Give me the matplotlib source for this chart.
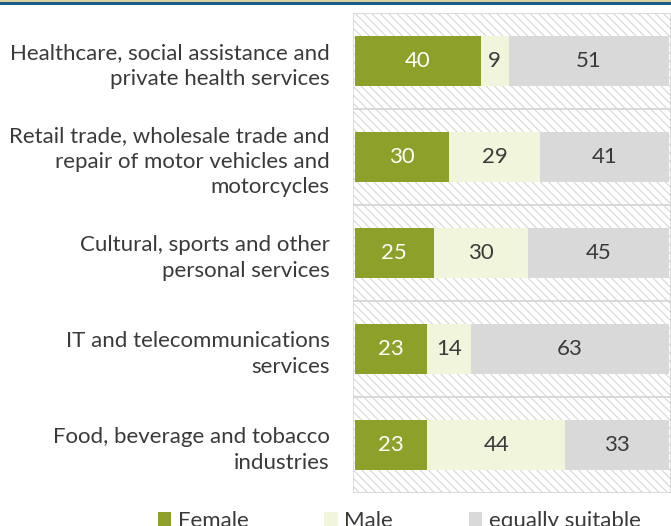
import matplotlib.pyplot as plt
import numpy as np
from matplotlib.patches import Rectangle, Patch

categories = ['Healthcare, social assistance and\nprivate health services',
              'Retail trade, wholesale trade and\nrepair of motor vehicles and\nmotorcycles',
              'Cultural, sports and other\npersonal services',
              'IT and telecommunications\nservices',
              'Food, beverage and tobacco\nindustries']
female = [40, 30, 25, 23, 23]
male = [9, 29, 30, 14, 44]
equal = [51, 41, 45, 63, 33]
series_names = ['Female', 'Male', 'equally suitable']
colors = ['#8DA12A', '#F0F5DC', '#D9D9D9']
text_colors = ['white', '#3A3A3A', '#3A3A3A']

plt.rcParams['font.family'] = ['Lato', 'DejaVu Sans']
plt.rcParams['hatch.linewidth'] = 0.8

fig = plt.figure(figsize=(6.71, 5.26), dpi=100)
W, H = 671, 526
ax = fig.add_axes([353 / W, 1 - 493 / H, (W - 353) / W, (493 - 13) / H])

y = np.arange(len(categories))
ax.set_xlim(-0.64, 100.64)
ax.set_ylim(len(categories) - 0.5, -0.5)

# hatched band behind each bar
for i in y:
    ax.add_patch(Rectangle((-0.64, i - 0.5), 101.28, 1, facecolor='white',
                           edgecolor='#D6D6D6', hatch='\\\\\\\\', lw=1.2, zorder=0))

left = np.zeros(len(categories))
for vals, name, c, tc in zip([female, male, equal], series_names, colors, text_colors):
    bars = ax.barh(y, vals, left=left, height=0.53, color=c, label=name, zorder=2)
    for b, v in zip(bars, vals):
        ax.text(b.get_x() + b.get_width() / 2, b.get_y() + b.get_height() / 2, str(v),
                ha='center', va='center', color=tc, fontsize=16, zorder=3)
    left += np.array(vals)

ax.set_yticks(y)
ax.set_yticklabels(categories, fontsize=16, color='#3A3A3A')
for t in ax.get_yticklabels():
    t.set_linespacing(1.35)
ax.tick_params(axis='y', length=0, pad=17)
ax.set_xticks([])
for s in ax.spines.values():
    s.set_visible(False)

handles = [Patch(facecolor=c, edgecolor='none') for c in colors]
fig.legend(handles, series_names, loc='center', bbox_to_anchor=(0.595, 5 / H), ncol=3,
           frameon=False, fontsize=16, handlelength=0.6, handleheight=0.6,
           handletextpad=0.3, columnspacing=3.4, labelcolor='#3A3A3A')

# header lines
fig.add_artist(Rectangle((0, 1 - 2 / H), 1, 2 / H, transform=fig.transFigure,
                         facecolor='#D8D3A0', edgecolor='none'))
fig.add_artist(Rectangle((0, 1 - 5 / H), 1, 3 / H, transform=fig.transFigure,
                         facecolor='#1A5A8A', edgecolor='none'))

fig.savefig('out.png', dpi=100)
